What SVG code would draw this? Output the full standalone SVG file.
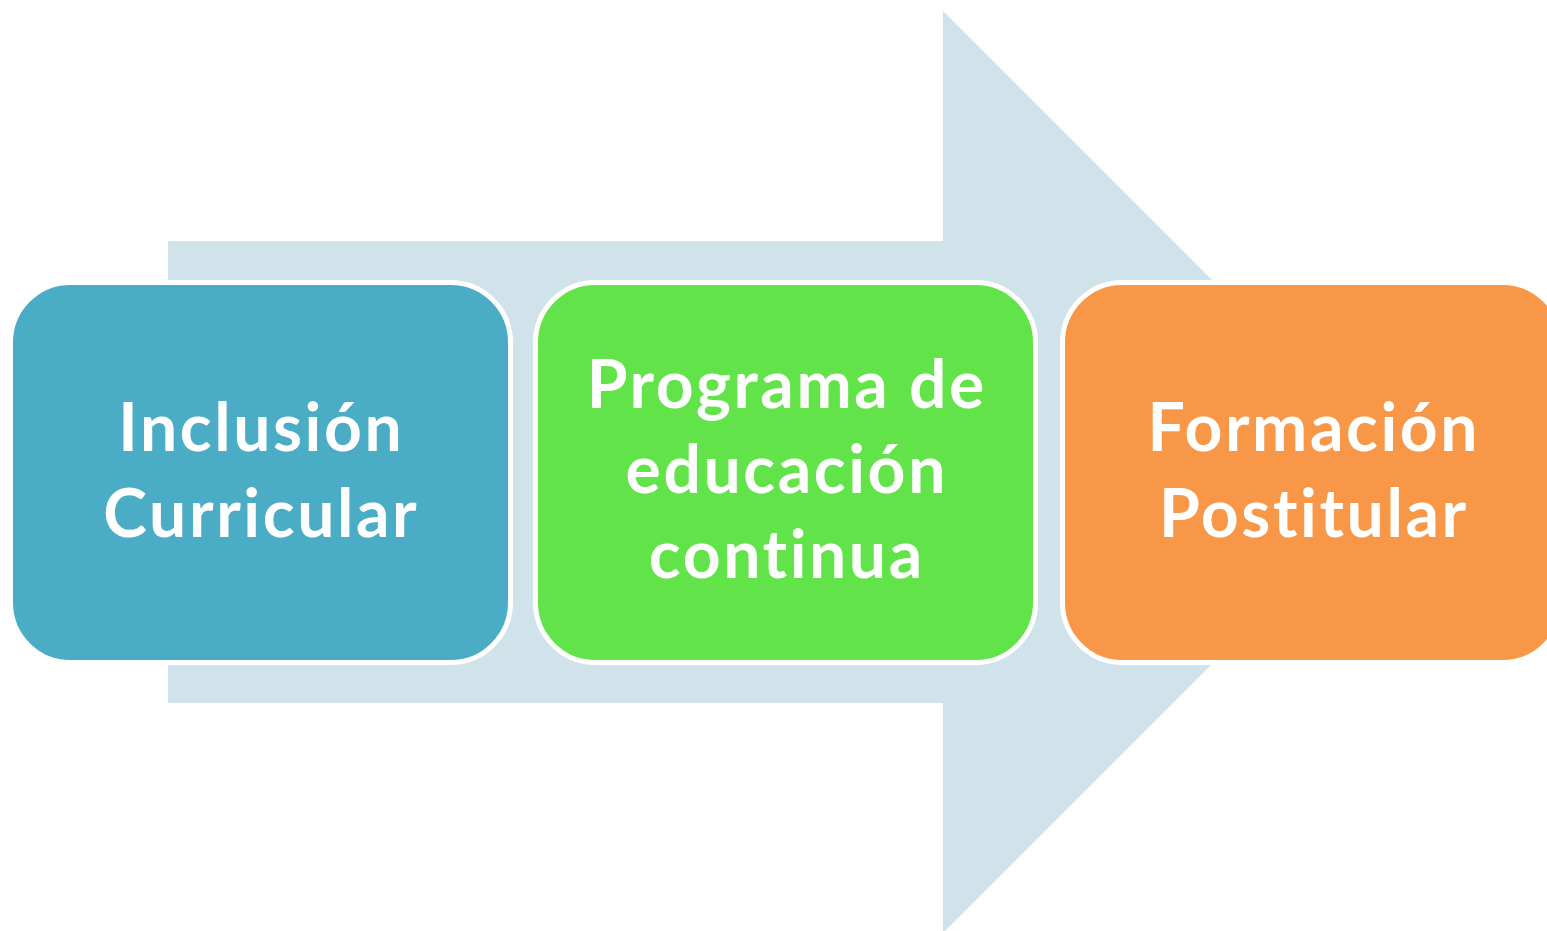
<svg xmlns="http://www.w3.org/2000/svg" width="1547" height="931" viewBox="0 0 1547 931">
<style>
.box{stroke:#FFFFFF;stroke-width:5}
.t{font-family:Lato,"Open Sans","Liberation Sans",sans-serif;font-weight:bold;font-size:66px;fill:#FFFFFF;text-anchor:middle;letter-spacing:2.6px;font-variant-ligatures:none;font-feature-settings:"liga" 0,"clig" 0}
</style>
<rect width="1547" height="931" fill="#FFFFFF"/>
<g id="arrow">
<polygon points="168,241 943,241 943,11 1404,472 943,933 943,703 168,703" fill="#D1E3EA"/>
</g>
<g id="node1">
<rect class="box" x="10.5" y="282.5" width="500" height="380" rx="60" ry="60" fill="#4BACC6"/>
<text class="t" x="261.3" y="451">Inclusión</text>
<text class="t" x="261.3" y="537">Curricular</text>
</g>
<g id="node2">
<rect class="box" x="535.5" y="282.5" width="500" height="380" rx="60" ry="60" fill="#62E349"/>
<text class="t" x="786.8" y="408">Programa de</text>
<text class="t" x="786.8" y="493">educación</text>
<text class="t" x="786.8" y="578">continua</text>
</g>
<g id="node3">
<rect class="box" x="1062.5" y="282.5" width="500" height="380" rx="60" ry="60" fill="#F79747"/>
<text class="t" x="1313.8" y="451">Formación</text>
<text class="t" x="1313.8" y="537">Postitular</text>
</g>
<g id="connectors"></g>
</svg>
